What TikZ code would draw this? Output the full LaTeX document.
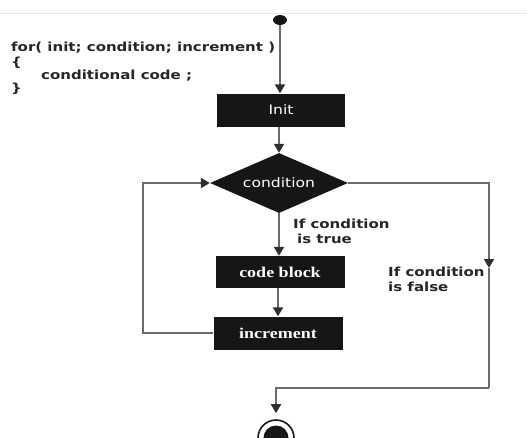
\documentclass[tikz,border=0pt]{standalone}
\usepackage{fontspec}
\setmainfont{DejaVu Sans}[FakeStretch=1.2]
\newfontfamily\boxserif{Liberation Serif}[FakeStretch=1.2]
\usetikzlibrary{arrows.meta,shapes.geometric}

\definecolor{boxfill}{HTML}{161616}
\definecolor{wire}{HTML}{6A6A6A}
\definecolor{tip}{HTML}{2E2E2E}
\definecolor{ink}{HTML}{262626}

\tikzset{
  flowline/.style={draw=wire, line width=2pt},
  arr/.style={flowline, -{Triangle[length=9pt,width=10pt,color=tip]}},
  blockbox/.style={rectangle, fill=boxfill, text=white, inner sep=0pt},
  sansbox/.style={blockbox, font=\fontsize{13}{15}\selectfont},
  serifbox/.style={blockbox, font=\boxserif\bfseries\fontsize{15}{17}\selectfont},
  codetxt/.style={text=ink, inner sep=0pt, anchor=west, font=\bfseries\fontsize{12.5}{14}\selectfont},
  lbl/.style={text=ink, inner sep=0pt, anchor=north west, align=left, font=\bfseries\fontsize{12.5}{14.5}\selectfont},
}

\begin{document}
\begin{tikzpicture}[x=1pt, y=-1pt]
\useasboundingbox (0,0) rectangle (527,437);
\clip (0,0) rectangle (527,437);

% faint rule along the top
\draw[black!10, line width=1pt] (0,13) -- (527,13);

% code listing
\node[codetxt] (l1) at (11,48) {for( init; condition; increment )};
\node[codetxt] (l2) at (11,63) {\{};
\node[codetxt] (l3) at (41,76) {conditional code ;};
\node[codetxt] (l4) at (11,89) {\}};

% start marker
\node[ellipse, fill=boxfill, minimum width=14pt, minimum height=10pt, inner sep=0pt] (start) at (280,20) {};

% main column
\node[sansbox, minimum width=128pt, minimum height=33pt] (init) at (281,110) {Init};
\node[diamond, fill=boxfill, text=white, inner sep=0pt, aspect=2.3,
      minimum width=138pt, minimum height=60pt, font=\fontsize{13}{15}\selectfont] (cond) at (279,183) {condition};
\node[serifbox, minimum width=129pt, minimum height=32pt] (code) at (280,272) {code block};
\node[serifbox, minimum width=129pt, minimum height=33pt] (incr) at (278,333) {increment};

% end marker
\node[circle, draw=boxfill, line width=1.6pt, minimum size=36pt, inner sep=0pt,
      path picture={\fill[boxfill] (path picture bounding box.center) circle (12.5pt);}] (stop) at (276,438) {};

% labels
\node[lbl] (ltrue) at (293,219) {If condition\\\hspace{4pt}is true};
\node[lbl] (lfalse) at (388,267) {If condition\\is false};

% connectors
\coordinate (fmid) at (489,268);
\coordinate (fcorner) at (489,388);
\draw[arr] (start) -- (start |- init.north);
\draw[arr] (init.south -| cond.north) -- (cond.north);
\draw[arr] (cond.south) -- (cond.south |- code.north);
\draw[arr] (code.south -| incr.north) -- (incr.north);
\draw[arr] (incr.west) -- ++(-70,0) |- (cond.west);
\draw[arr] (cond.east) -| (fmid);
\draw[flowline] (fmid) -- (fcorner);
\draw[arr, shorten >=6pt] (fcorner) -| (stop.north);
\end{tikzpicture}
\end{document}
